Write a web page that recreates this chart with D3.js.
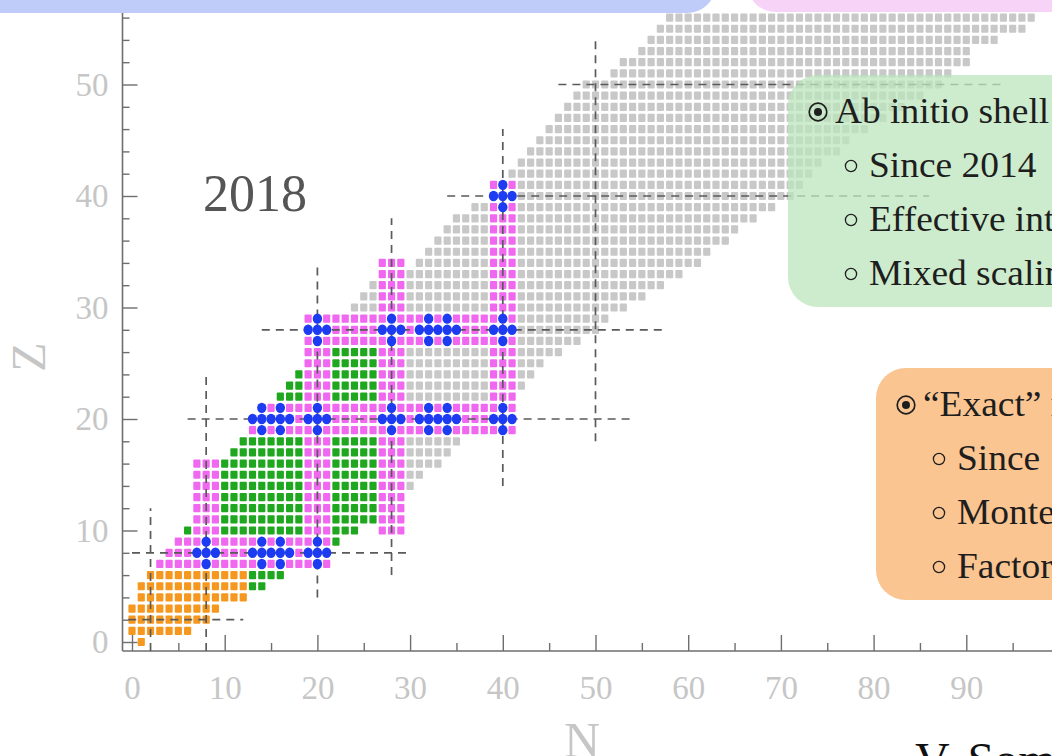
<!DOCTYPE html>
<html>
<head>
<meta charset="utf-8">
<script src="https://cdn.jsdelivr.net/npm/d3@7"></script>
<style>
body { margin: 0; background: #fff; }
svg { display: block; }
text { font-family: "Liberation Serif", "DejaVu Serif", serif; }
</style>
</head>
<body>
<svg id="chart"></svg>
<script>
// chart extent per row: [Z, Nmin, Nmax]  (gray = known nuclei)
var grayRows = [
	[14,7,30],[15,7,31],[16,7,33],[17,11,34],[18,12,35],[19,13,41],[20,13,41],[21,14,41],
	[22,16,41],[23,17,42],[24,18,43],[25,19,44],[26,19,46],[27,19,48],[28,19,50],[29,19,51],
	[30,24,53],[31,25,55],[32,26,57],[33,30,59],[34,31,61],[35,32,62],[36,33,64],[37,34,65],
	[38,35,67],[39,37,69],[40,39,71],[41,39,72],[42,41,73],[43,42,74],[44,43,76],[45,44,77],
	[46,45,79],[47,46,81],[48,47,83],[49,48,85],[50,49,87],[51,52,88],[52,53,90],[53,55,90],
	[54,56,93],[55,57,96],[56,58,97]
]
// "exact" methods: [Z, Nmin, Nmax]
var orangeRows = [[0,1,1],[1,0,6],[2,0,8],[3,0,9],[4,1,12],[5,1,12],[6,2,12]]
// shell model since 2014: [Z, Nmin, Nmax]
var greenRows = [
	[5,13,14],[6,13,16],[9,22,22],[10,6,24],[11,7,26],[12,7,26],[13,7,26],[14,7,26],
	[15,7,26],[16,7,26],[17,11,26],[18,12,26],[22,16,26],[23,17,26],[24,18,26],[25,19,26],[26,19,26]
]
// magic chains, isotopes: [Z, Nmin, Nmax]
var magentaRows = [[7,3,21],[8,4,21],[9,5,21],[19,13,41],[20,13,41],[21,14,41],[27,19,41],[28,19,41],[29,19,41]]
// magic chains, isotones: [N, Zmin, Zmax]
var magentaCols = [[7,7,16],[8,7,16],[9,7,16],[19,7,29],[20,7,29],[21,7,29],[27,10,34],[28,10,34],[29,10,34],[39,19,41],[40,19,41],[41,19,41]]
// blue dots: [Z, [N...]]
var blueRows = [
	[7,[8,14,16,20]],
	[8,[7,8,9,13,14,15,16,17,19,20,21]],
	[9,[8,14,16,20]],
	[19,[14,16,20,28,32,34,40]],
	[20,[13,14,15,16,17,19,20,21,27,28,29,31,32,33,34,35,39,40,41]],
	[21,[14,16,20,28,32,34,40]],
	[27,[20,28,32,34,40]],
	[28,[19,20,21,27,28,29,31,32,33,34,35,39,40,41]],
	[29,[20,28,32,34,40]],
	[39,[40]],
	[40,[39,40,41]],
	[41,[40]]
]
// dashed magic lines
var magicZ = [[2,-0.4,12],[8,0,30],[20,6,54],[28,14,57.5],[40,34,86],[50,46,94]]   // [Z, Nfrom, Nto]
var magicN = [[2,-0.8,12],[8,-0.8,24],[20,4,34],[28,6,38],[40,14,46],[50,18,54]]   // [N, Zfrom, Zto]

var nMajor = [0,10,20,30,40,50,60,70,80,90]
var nMinor = [5,15,25,35,45,55,65,75,85,95]
var zMajor = [0,10,20,30,40,50]
var zMinor = [2,4,6,8,12,14,16,18,22,24,26,28,32,34,36,38,42,44,46,48,52,54,56]

var greenLegend = ['Since 2014', 'Effective interactions', 'Mixed scaling']
var orangeLegend = ['Since 1990s', 'Monte Carlo', 'Factorization']

var colors = {gray: '#c8c8c8', orange: '#f6981f', green: '#1fa71f', magenta: '#ef68ef', blue: '#1d3cf2'}

var width = 1052, height = 756

var svg = d3.select('#chart')
	.attr('width', width)
	.attr('height', height)

var x = d3.scaleLinear().domain([0, 100]).range([132, 1059])
var y = d3.scaleLinear().domain([0, 50]).range([642, 84.5])

// one colour per cell, later layers win
var cells = new Map()
function put(n, z, c) { cells.set(n + ',' + z, {n: n, z: z, c: c}) }
grayRows.forEach(r => { for (var n = r[1]; n <= r[2]; n++) put(n, r[0], 'gray') })
greenRows.forEach(r => { for (var n = r[1]; n <= r[2]; n++) put(n, r[0], 'green') })
orangeRows.forEach(r => { for (var n = r[1]; n <= r[2]; n++) put(n, r[0], 'orange') })
magentaRows.forEach(r => { for (var n = r[1]; n <= r[2]; n++) put(n, r[0], 'magenta') })
magentaCols.forEach(r => { for (var z = r[1]; z <= r[2]; z++) put(r[0], z, 'magenta') })
blueRows.forEach(r => r[1].forEach(n => put(n, r[0], 'blue')))

var all = Array.from(cells.values())
var squares = all.filter(d => d.c != 'blue')
var dots = all.filter(d => d.c == 'blue')

var cw = 7.2, ch = 8.2

// AXES
var axisX = 122.5, axisY = 651

svg.append('g')
	.attr('transform', 'translate(0,' + axisY + ')')
	.call(d3.axisBottom(x).tickValues(nMajor).tickSize(-16).tickPadding(25))
	.call(g => g.select('.domain').remove())
svg.append('g')
	.attr('transform', 'translate(0,' + axisY + ')')
	.call(d3.axisBottom(x).tickValues(nMinor).tickSize(-8).tickFormat(''))
	.call(g => g.select('.domain').remove())
svg.append('g')
	.attr('transform', 'translate(' + axisX + ',0)')
	.call(d3.axisLeft(y).tickValues(zMajor).tickSize(-15).tickPadding(14))
	.call(g => g.select('.domain').remove())
svg.append('g')
	.attr('transform', 'translate(' + axisX + ',0)')
	.call(d3.axisLeft(y).tickValues(zMinor).tickSize(-7).tickFormat(''))
	.call(g => g.select('.domain').remove())

svg.selectAll('.tick line').attr('stroke', '#6e6e6e').attr('stroke-width', 1.4)
svg.selectAll('.tick text')
	.attr('fill', '#c6c6c6')
	.style('font-size', '33px')
	.style('font-family', '"Liberation Serif", serif')

svg.append('line')
	.attr('x1', axisX).attr('x2', width)
	.attr('y1', axisY).attr('y2', axisY)
	.attr('stroke', '#6e6e6e').attr('stroke-width', 1.6)
svg.append('line')
	.attr('x1', axisX).attr('x2', axisX)
	.attr('y1', axisY).attr('y2', 2)
	.attr('stroke', '#6e6e6e').attr('stroke-width', 1.6)

// cells
svg.append('g').selectAll('rect')
	.data(squares)
	.enter()
	.append('rect')
		.attr('x', d => x(d.n) - cw / 2)
		.attr('y', d => y(d.z) - ch / 2)
		.attr('width', cw)
		.attr('height', ch)
		.attr('rx', 1)
		.attr('fill', d => colors[d.c])

// magic numbers
var dash = svg.append('g')
	.attr('stroke', '#5a5a5a')
	.attr('stroke-width', 1.7)
	.attr('stroke-dasharray', '8,6')
dash.selectAll('.hz')
	.data(magicZ)
	.enter()
	.append('line')
		.attr('x1', d => x(d[1])).attr('x2', d => x(d[2]))
		.attr('y1', d => y(d[0])).attr('y2', d => y(d[0]))
dash.selectAll('.vn')
	.data(magicN)
	.enter()
	.append('line')
		.attr('x1', d => x(d[0])).attr('x2', d => x(d[0]))
		.attr('y1', d => y(d[1])).attr('y2', d => y(d[2]))

svg.append('g').selectAll('ellipse')
	.data(dots)
	.enter()
	.append('ellipse')
		.attr('cx', d => x(d.n))
		.attr('cy', d => y(d.z))
		.attr('rx', 4.7)
		.attr('ry', 5.2)
		.attr('fill', colors.blue)

// labels
svg.append('text')
	.attr('x', 203).attr('y', 211)
	.style('font-size', '52px')
	.attr('fill', '#555')
	.text('2018')

svg.append('text')
	.attr('transform', 'translate(45,357) rotate(-90)')
	.attr('text-anchor', 'middle')
	.style('font-size', '48px')
	.attr('fill', '#c6c6c6')
	.text('Z')

svg.append('text')
	.attr('x', 582).attr('y', 757)
	.attr('text-anchor', 'middle')
	.style('font-size', '50px')
	.attr('fill', '#c6c6c6')
	.text('N')

// slide boxes
svg.append('rect')
	.attr('x', -40).attr('y', -40).attr('width', 755).attr('height', 53).attr('rx', 28)
	.attr('fill', '#bfcbf8')
svg.append('rect')
	.attr('x', 748).attr('y', -40).attr('width', 360).attr('height', 52).attr('rx', 28)
	.attr('fill', '#f8d3f8')

function legendText(g, tx, ty, t) {
	g.append('text')
		.attr('transform', 'translate(' + tx + ',' + ty + ') scale(1.07,1)')
		.style('font-size', '35px')
		.attr('fill', '#1e1e1e')
		.text(t)
}

function legendBox(x0, y0, fill, opacity, head, items) {
	var g = svg.append('g')
	g.append('rect')
		.attr('x', x0).attr('y', y0).attr('width', 320).attr('height', 232).attr('rx', 30)
		.attr('fill', fill).attr('fill-opacity', opacity)
	// header line with dotted circle
	g.append('circle').attr('cx', x0 + 30).attr('cy', y0 + 37).attr('r', 8.8)
		.attr('fill', 'none').attr('stroke', '#1e1e1e').attr('stroke-width', 1.7)
	g.append('circle').attr('cx', x0 + 30).attr('cy', y0 + 37).attr('r', 4).attr('fill', '#1e1e1e')
	legendText(g, x0 + 47, y0 + 48, head)
	items.forEach((t, i) => {
		g.append('circle').attr('cx', x0 + 63).attr('cy', y0 + 91 + i * 54).attr('r', 5.6)
			.attr('fill', 'none').attr('stroke', '#1e1e1e').attr('stroke-width', 1.3)
		legendText(g, x0 + 81, y0 + 102 + i * 54, t)
	})
}

legendBox(788, 75, '#bce6bc', 0.75, 'Ab initio shell model', greenLegend)
legendBox(876, 368, '#fbc591', 1, '\u201cExact\u201d methods', orangeLegend)

// author credit, cut by the bottom of the slide
svg.append('text')
	.attr('x', 915).attr('y', 776)
	.style('font-size', '48px')
	.attr('fill', '#111')
	.text('V. Som\u00e0')
</script>
</body>
</html>
